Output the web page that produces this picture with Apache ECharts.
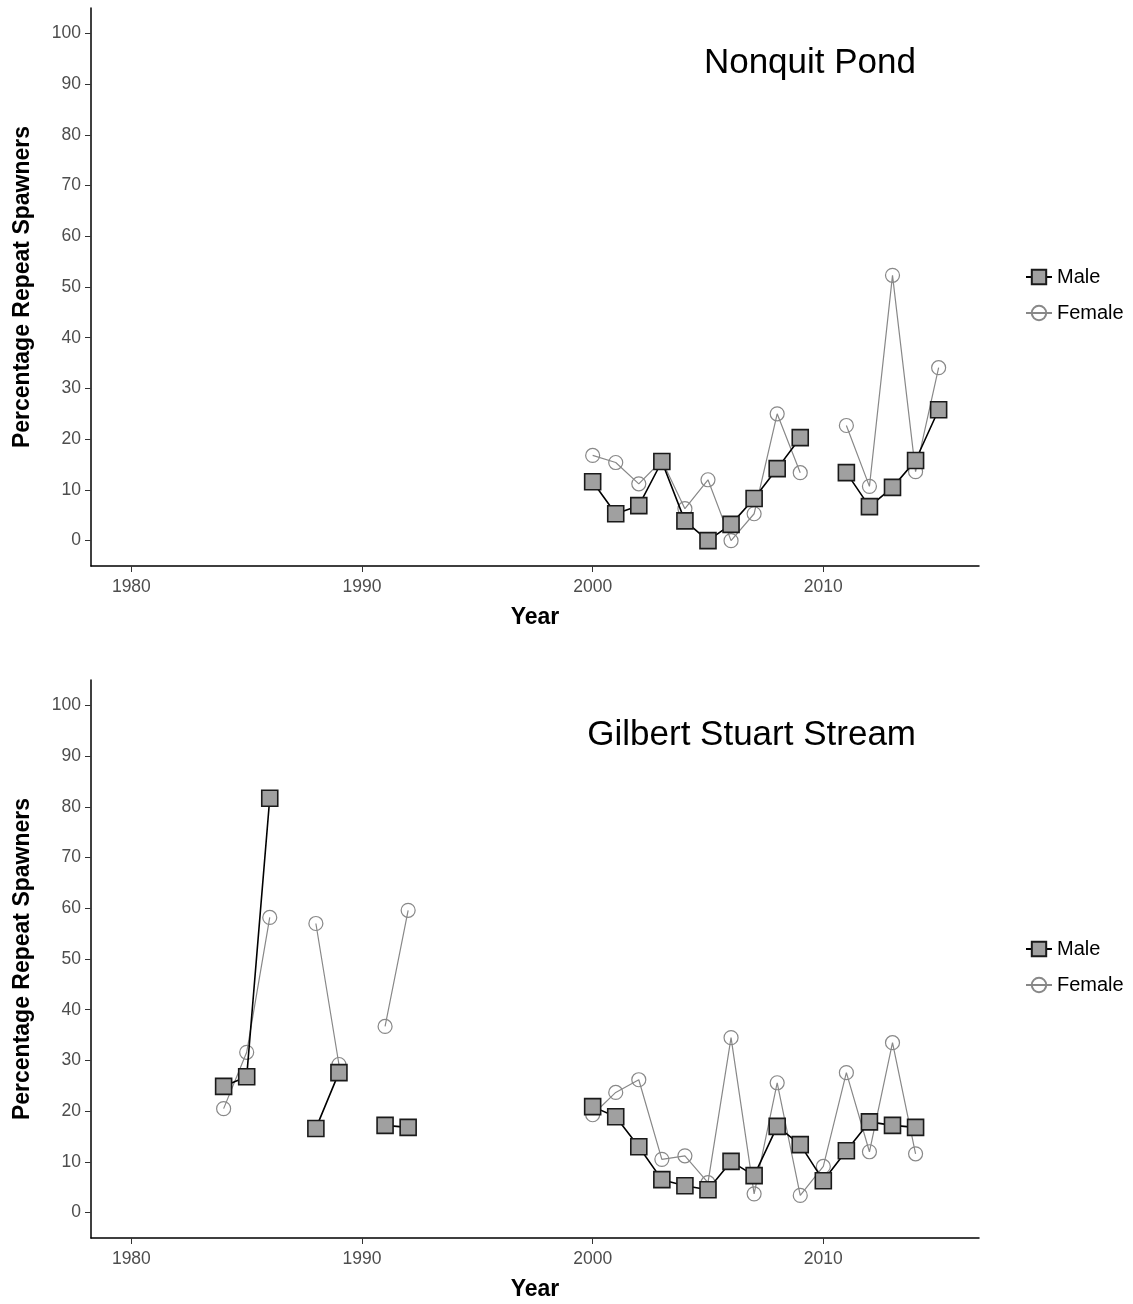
<!DOCTYPE html>
<html>
<head>
<meta charset="utf-8">
<script src="https://cdn.jsdelivr.net/npm/echarts@6/dist/echarts.min.js"></script>
<style>
html,body{margin:0;padding:0;background:#fff;}
#chart{width:1133px;height:1304px;}
</style>
</head>
<body>
<div id="chart"></div>
<script>
// ---- Data ----
const yearsNonquit = [2000,2001,2002,2003,2004,2005,2006,2007,2008,2009,2010,2011,2012,2013,2014,2015];
const maleNonquit   = [11.6,5.3,6.9,15.6,3.9,0.0,3.2,8.3,14.2,20.3,null,13.4,6.7,10.5,15.8,25.8];
const femaleNonquit = [16.8,15.4,11.2,15.8,6.3,12.0,0.0,5.3,25.0,13.4,null,22.7,10.7,52.3,13.6,34.1];

const yearsGilbert = [1984,1985,1986,1987,1988,1989,1990,1991,1992,1993,1994,1995,1996,1997,1998,1999,2000,2001,2002,2003,2004,2005,2006,2007,2008,2009,2010,2011,2012,2013,2014];
const maleGilbert   = [24.9,26.8,81.7,null,16.6,27.6,null,17.2,16.8,null,null,null,null,null,null,null,20.9,18.9,13.0,6.5,5.3,4.5,10.1,7.3,17.0,13.4,6.3,12.2,17.9,17.2,16.8];
const femaleGilbert = [20.5,31.6,58.2,null,57.0,29.2,null,36.7,59.6,null,null,null,null,null,null,null,19.3,23.7,26.2,10.5,11.2,5.9,34.5,3.7,25.6,3.4,9.1,27.6,12.0,33.5,11.6];

const xTicks = [1980,1990,2000,2010];
const yTicks = [0,10,20,30,40,50,60,70,80,90,100];
const panelTitles = ['Nonquit Pond','Gilbert Stuart Stream'];
const seriesNames = ['Male','Female'];

// ---- Build ----
const FONT = 'Liberation Sans, Arial, sans-serif';
function pairs(xs, ys){ return xs.map((x,i)=>[x, ys[i]]); }

const grids = [
  {left:91, right:154, top:8, height:558},
  {left:91, right:154, top:680, height:558}
];

function xAxis(gi){
  return {
    type:'value', gridIndex:gi, min:1978.25, max:2016.75,
    name:'Year', nameLocation:'middle', nameGap:40,
    nameTextStyle:{fontFamily:FONT, fontSize:23, fontWeight:'bold', color:'#000'},
    splitLine:{show:false},
    axisLine:{show:true, onZero:false, lineStyle:{color:'#000', width:1.5}},
    axisTick:{show:true, length:6, customValues:xTicks, lineStyle:{color:'#333'}},
    axisLabel:{customValues:xTicks, formatter:v=>String(Math.round(v)), fontFamily:FONT, fontSize:17.5, color:'#4d4d4d', margin:12}
  };
}
function yAxis(gi){
  return {
    type:'value', gridIndex:gi, min:-5, max:105,
    name:'Percentage Repeat Spawners', nameLocation:'middle', nameGap:57, nameRotate:90,
    nameTextStyle:{fontFamily:FONT, fontSize:23, fontWeight:'bold', color:'#000'},
    splitLine:{show:false},
    axisLine:{show:true, onZero:false, lineStyle:{color:'#000', width:1.5}},
    axisTick:{show:true, length:6, customValues:yTicks, lineStyle:{color:'#333'}},
    axisLabel:{customValues:yTicks, fontFamily:FONT, fontSize:17.5, color:'#4d4d4d', margin:10}
  };
}
function maleSeries(gi, xs, ys){
  return {
    name:seriesNames[0], type:'line', xAxisIndex:gi, yAxisIndex:gi,
    data:pairs(xs, ys), connectNulls:false,
    symbol:'rect', symbolSize:16,
    lineStyle:{color:'#000', width:1.6},
    itemStyle:{color:'#a0a0a0', borderColor:'#1a1a1a', borderWidth:1.6},
    z:3, animation:false
  };
}
function femaleSeries(gi, xs, ys){
  return {
    name:seriesNames[1], type:'line', xAxisIndex:gi, yAxisIndex:gi,
    data:pairs(xs, ys), connectNulls:false,
    symbol:'circle', symbolSize:14,
    lineStyle:{color:'#888', width:1.2},
    itemStyle:{color:'rgba(255,255,255,0)', borderColor:'#888', borderWidth:1.2},
    z:2, animation:false
  };
}

const legendText = {fontFamily:FONT, fontSize:20, color:'#000'};
const option = {
  backgroundColor:'#fff',
  animation:false,
  grid:grids,
  title:[
    {text:panelTitles[0], right:212, top:41, textStyle:{fontFamily:FONT, fontSize:35, fontWeight:'normal', color:'#000'}},
    {text:panelTitles[1], right:212, top:713, textStyle:{fontFamily:FONT, fontSize:35, fontWeight:'normal', color:'#000'}}
  ],
  legend:[
    {data:seriesNames, orient:'vertical', left:1020, top:262, itemGap:16, itemWidth:26, itemHeight:18, textStyle:legendText},
    {data:seriesNames, orient:'vertical', left:1020, top:934, itemGap:16, itemWidth:26, itemHeight:18, textStyle:legendText}
  ],
  xAxis:[xAxis(0), xAxis(1)],
  yAxis:[yAxis(0), yAxis(1)],
  series:[
    maleSeries(0, yearsNonquit, maleNonquit),
    femaleSeries(0, yearsNonquit, femaleNonquit),
    maleSeries(1, yearsGilbert, maleGilbert),
    femaleSeries(1, yearsGilbert, femaleGilbert)
  ]
};
const chart = echarts.init(document.getElementById('chart'), null, {renderer:'canvas'});
chart.setOption(option);
</script>
</body>
</html>
